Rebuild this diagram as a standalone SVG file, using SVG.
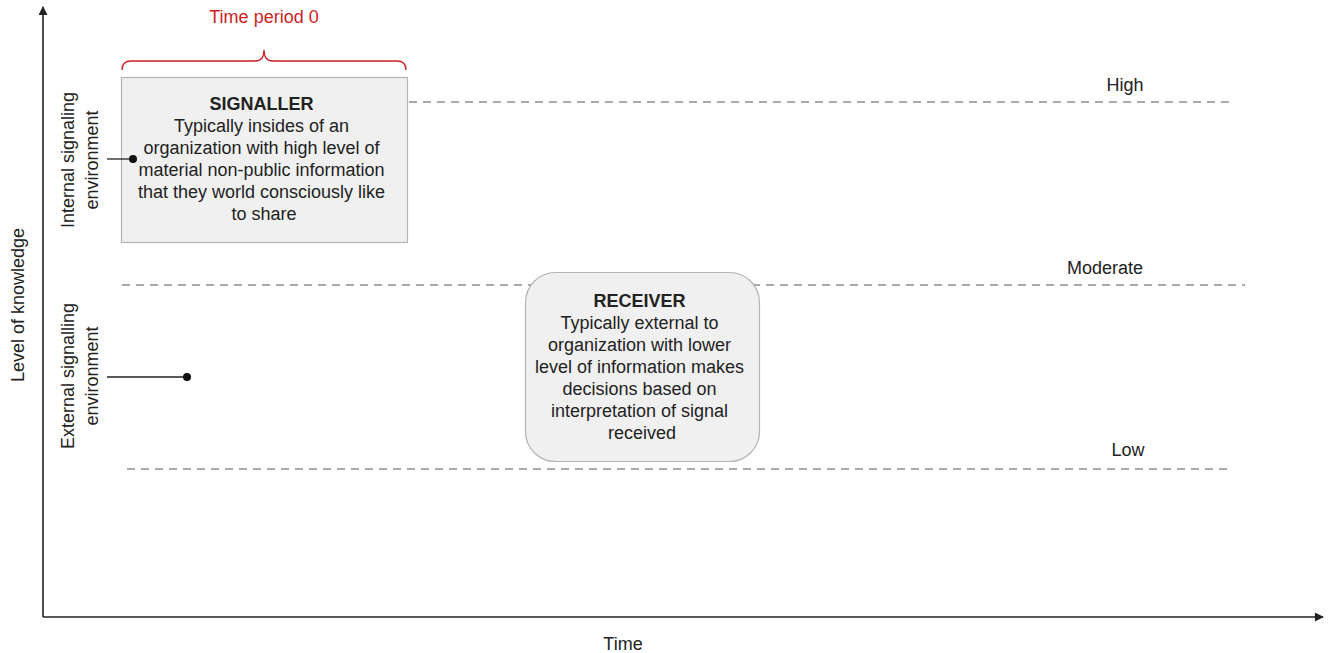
<svg xmlns="http://www.w3.org/2000/svg" width="1331" height="653" viewBox="0 0 1331 653">
  <style>
    text { font-family: "Liberation Sans", Arial, sans-serif; font-size: 18px; fill: #222; }
    .c { text-anchor: middle; }
    .b { font-weight: bold; }
    .red { fill: #cc1f1f; }
    .axis { stroke: #222; stroke-width: 1.6; fill: none; }
    .level { stroke: #aaaaaa; stroke-width: 2; stroke-dasharray: 8 6; fill: none; }
    .box { fill: #f0f0f0; stroke: #b3b3b3; stroke-width: 1.2; }
    .lead { stroke: #222; stroke-width: 1.3; fill: none; }
  </style>
  <defs>
    <marker id="arrow" viewBox="0 0 10 10" refX="9" refY="5" markerWidth="10" markerHeight="9" orient="auto" markerUnits="userSpaceOnUse">
      <path d="M0,0 L10,5 L0,10 z" fill="#222"/>
    </marker>
  </defs>

  <rect width="1331" height="653" fill="#ffffff"/>

  <!-- axes -->
  <g id="axes">
    <line class="axis" x1="43" y1="617" x2="43" y2="7" marker-end="url(#arrow)"/>
    <line class="axis" x1="43" y1="617" x2="1323" y2="617" marker-end="url(#arrow)"/>
    <text class="c" transform="translate(24,305) rotate(-90)">Level of knowledge</text>
    <text class="c" x="623" y="650">Time</text>
  </g>

  <!-- knowledge levels -->
  <g id="level-lines">
    <line class="level" x1="409" y1="102" x2="1233" y2="102"/>
    <line class="level" x1="122" y1="285" x2="1245" y2="285"/>
    <line class="level" x1="127" y1="469" x2="1233" y2="469"/>
  </g>

  <g id="level-labels">
    <text class="c" x="1125" y="91">High</text>
    <text class="c" x="1105" y="274">Moderate</text>
    <text class="c" x="1128" y="456">Low</text>
  </g>

  <!-- environment labels -->
  <g id="internal-env">
    <text class="c" transform="translate(74,160) rotate(-90)">Internal signaling</text>
    <text class="c" transform="translate(98,160) rotate(-90)">environment</text>
  </g>
  <g id="external-env">
    <text class="c" transform="translate(74,376) rotate(-90)">External signalling</text>
    <text class="c" transform="translate(98,376) rotate(-90)">environment</text>
  </g>

  <!-- time period bracket -->
  <g id="time-period">
    <path d="M122,70 Q122,61 131,61 L255,61 Q264,61 264,50 Q264,61 273,61 L397,61 Q406,61 406,70" fill="none" stroke="#cc1f1f" stroke-width="1.3"/>
    <text class="c red" x="264" y="23">Time period 0</text>
  </g>

  <!-- signaller -->
  <g id="signaller">
    <rect class="box" x="121.5" y="77.5" width="286" height="165"/>
    <text class="c" x="264" y="110"><tspan class="b">SIGNALLER</tspan>
      <tspan x="264" dy="22">Typically insides of an</tspan>
      <tspan x="264" dy="22">organization with high level of</tspan>
      <tspan x="264" dy="22">material non-public information</tspan>
      <tspan x="264" dy="22">that they world consciously like</tspan>
      <tspan x="264" dy="22">to share</tspan>
    </text>
  </g>

  <!-- receiver -->
  <g id="receiver">
    <rect class="box" x="525.5" y="272.5" width="234" height="189" rx="30" ry="30"/>
    <text class="c" x="642" y="307"><tspan class="b">RECEIVER</tspan>
      <tspan x="642" dy="22">Typically external to</tspan>
      <tspan x="642" dy="22">organization with lower</tspan>
      <tspan x="642" dy="22">level of information makes</tspan>
      <tspan x="642" dy="22">decisions based on</tspan>
      <tspan x="642" dy="22">interpretation of signal</tspan>
      <tspan x="642" dy="22">received</tspan>
    </text>
  </g>

  <!-- pointers from environment labels -->
  <g id="connectors">
    <line class="lead" x1="107" y1="159" x2="133" y2="159"/>
    <circle cx="133" cy="159" r="4" fill="#111"/>
    <line class="lead" x1="107" y1="377" x2="187" y2="377"/>
    <circle cx="187" cy="377" r="4" fill="#111"/>
  </g>
</svg>
